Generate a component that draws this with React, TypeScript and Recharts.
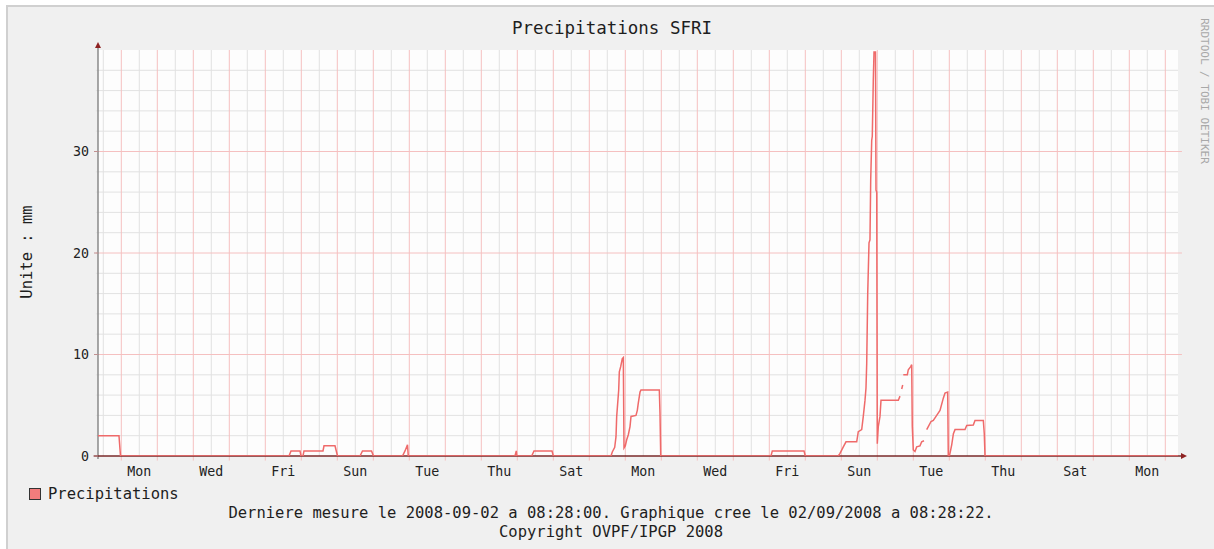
import React from 'react';
import { ComposedChart, Line, XAxis, YAxis, ReferenceLine, ReferenceArea, ReferenceDot } from 'recharts';

// Time axis: days since 2008-08-03 08:28 (30-day window ending 2008-09-02 08:28)
// Rain episodes, [day, mm]; null = unknown (gap in the line)
type Pt = [number, number | null];

const rainSunAug03: Pt[] = [[0.0, 2.0], [0.583, 2.0], [0.625, 0]];
const rainFriAug08: Pt[] = [
  [5.306, 0], [5.361, 0.5], [5.611, 0.5], [5.639, 0], [5.694, 0], [5.722, 0.5],
  [6.25, 0.5], [6.278, 1.0], [6.583, 1.0], [6.653, 0],
];
const rainSunAug10: Pt[] = [[7.278, 0], [7.347, 0.5], [7.597, 0.5], [7.653, 0]];
const rainMonAug11: Pt[] = [[8.458, 0], [8.528, 0.5], [8.597, 1.1], [8.619, 0]];
const rainThuAug14: Pt[] = [[11.583, 0], [11.619, 0.5], [11.633, 0]];
const rainFriAug15: Pt[] = [[12.047, 0], [12.111, 0.5], [12.611, 0.5], [12.647, 0]];
const rainMonAug18: Pt[] = [
  [14.25, 0], [14.286, 0.4], [14.353, 0.85], [14.389, 1.9], [14.408, 3.9], [14.464, 6.5],
  [14.481, 8.3], [14.519, 8.8], [14.564, 9.6], [14.592, 9.7], [14.611, 0.8], [14.647, 1.0],
  [14.686, 1.6], [14.731, 2.1], [14.778, 2.9], [14.806, 3.9], [14.944, 4.0], [14.981, 4.5],
  [15.008, 5.2], [15.056, 6.3], [15.083, 6.5], [15.592, 6.5], [15.611, 4.2], [15.631, 0],
];
const rainFriAug22: Pt[] = [[18.694, 0], [18.731, 0.5], [19.611, 0.5], [19.647, 0]];
const rainSunAug24: Pt[] = [
  [20.564, 0], [20.611, 0.26], [20.703, 0.9], [20.778, 1.4], [21.075, 1.4], [21.119, 2.4],
  [21.214, 2.6], [21.258, 3.9], [21.306, 5.5], [21.333, 6.7], [21.353, 9.1], [21.381, 16.0],
  [21.417, 21.0], [21.444, 21.3], [21.464, 27.2], [21.492, 31.1], [21.508, 31.5], [21.536, 37.0],
  [21.556, 39.8], [21.597, 39.8], [21.611, 26.2], [21.631, 26.0], [21.647, 1.2], [21.675, 2.9],
  [21.722, 3.9], [21.75, 5.5], [22.231, 5.5], [22.278, 5.9], [22.3, null], [22.325, 6.6],
  [22.353, 7.0], [22.36, null], [22.369, 8.0], [22.481, 8.0], [22.508, 8.5], [22.575, 8.8],
  [22.603, 9.0], [22.619, 2.9], [22.647, 0.6], [22.694, 0.45], [22.741, 0.9], [22.833, 1.0],
  [22.88, 1.4], [22.944, 1.5], [22.97, null], [23.019, 2.6], [23.064, 2.9], [23.139, 3.4],
  [23.203, 3.5], [23.297, 4.0], [23.389, 4.5], [23.481, 5.7], [23.528, 6.2], [23.603, 6.3],
  [23.619, 0], [23.65, 0], [23.686, 0.6], [23.714, 1.1], [23.761, 2.2], [23.806, 2.6],
  [24.083, 2.6], [24.131, 3.0], [24.314, 3.05], [24.361, 3.5], [24.592, 3.5], [24.619, 2.2],
  [24.639, 0],
];
const rainTail: Pt[] = [[30, 0]];

const dayLabels = ['Mon', 'Wed', 'Fri', 'Sun', 'Tue', 'Thu', 'Sat', 'Mon', 'Wed', 'Fri', 'Sun', 'Tue', 'Thu', 'Sat', 'Mon'];
const yTicks = [0, 10, 20, 30];
const yMinor = [2, 4, 6, 8, 12, 14, 16, 18, 22, 24, 26, 28, 32, 34, 36, 38];
const yMajor = [10, 20, 30];

const FIRST_MIDNIGHT = 0.6472; // Mon 2008-08-04 00:00
const majorX: number[] = [];
const minorX: number[] = [];
for (let k = 0; k < 30; k++) {
  majorX.push(FIRST_MIDNIGHT + k);
  minorX.push(FIRST_MIDNIGHT - 0.5 + k);
}
const labelDays = dayLabels.map((_, j) => FIRST_MIDNIGHT + 0.5 + 2 * j);

const FONT = '"DejaVu Sans Mono", monospace';
const GRID_MINOR = '#e2e2e2';
const GRID_MAJOR = '#f5c0c0';

const ArrowUp = (props: any) => {
  const { cx, cy } = props;
  return <polygon points={`${cx},${cy} ${cx - 3},${cy + 6} ${cx + 3},${cy + 6}`} fill="#8e2222" />;
};
const ArrowRight = (props: any) => {
  const { cx, cy } = props;
  return <polygon points={`${cx},${cy} ${cx - 6},${cy - 3} ${cx - 6},${cy + 3}`} fill="#8e2222" />;
};

export default function App() {
  const data = [
    ...rainSunAug03, ...rainFriAug08, ...rainSunAug10, ...rainMonAug11, ...rainThuAug14,
    ...rainFriAug15, ...rainMonAug18, ...rainFriAug22, ...rainSunAug24, ...rainTail,
  ].map(([t, v]) => ({ t, mm: v }));

  const tickStyle = { fontSize: 13.3, fill: '#222', fontFamily: FONT };

  return (
    <div style={{ position: 'absolute', left: 0, top: 0, width: 1214, height: 549, background: '#fff', overflow: 'hidden', fontFamily: FONT }}>
      <div style={{ position: 'absolute', left: 6, top: 5, width: 1230, height: 570, background: '#f0f0f0', borderLeft: '2px solid #d0d0d0', borderTop: '2px solid #d0d0d0' }} />
      <div style={{ position: 'absolute', left: 8, top: 7 }}>
        <ComposedChart width={1206} height={542} data={data} margin={{ top: 43, right: 36, left: 20, bottom: 63 }}>
          <XAxis
            dataKey="t" type="number" domain={[0, 30]} allowDataOverflow ticks={labelDays} interval={0}
            tickFormatter={(v: number) => dayLabels[labelDays.indexOf(v)] ?? ''}
            axisLine={false} tickLine={false} tickMargin={5} height={30} tick={tickStyle}
          />
          <YAxis
            type="number" domain={[0, 40]} allowDataOverflow ticks={yTicks} interval={0} width={70}
            axisLine={false} tickLine={{ stroke: '#c09090' }} tickSize={4} tickMargin={5} tick={tickStyle}
          />
          <ReferenceArea x1={0} x2={30} y1={0} y2={40} fill="#fdfdfd" fillOpacity={1} stroke="none" ifOverflow="visible" />
          {minorX.map((x) => (
            <ReferenceLine key={'mx' + x} segment={[{ x, y: 0 }, { x, y: 40 }]} stroke={GRID_MINOR} strokeWidth={1} ifOverflow="visible" />
          ))}
          {yMinor.map((y) => (
            <ReferenceLine key={'my' + y} segment={[{ x: -0.06, y }, { x: 30, y }]} stroke={GRID_MINOR} strokeWidth={1} ifOverflow="visible" />
          ))}
          {majorX.map((x) => (
            <ReferenceLine key={'Mx' + x} segment={[{ x, y: -0.45 }, { x, y: 40 }]} stroke={GRID_MAJOR} strokeWidth={1} ifOverflow="visible" />
          ))}
          {yMajor.map((y) => (
            <ReferenceLine key={'My' + y} segment={[{ x: -0.06, y }, { x: 30.11, y }]} stroke={GRID_MAJOR} strokeWidth={1} ifOverflow="visible" />
          ))}
          <ReferenceLine segment={[{ x: 0, y: -0.3 }, { x: 0, y: 40.4 }]} stroke="#8a8a8a" strokeWidth={1.5} ifOverflow="visible" />
          <ReferenceLine segment={[{ x: -0.12, y: 0 }, { x: 30.1, y: 0 }]} stroke="#7a2a2a" strokeWidth={1.5} ifOverflow="visible" />
          <ReferenceDot x={0} y={40.8} r={3} ifOverflow="visible" shape={ArrowUp} />
          <ReferenceDot x={30.25} y={0} r={3} ifOverflow="visible" shape={ArrowRight} />
          <Line
            dataKey="mm" type="linear" stroke="#ef6a6a" strokeWidth={1.5} dot={false}
            activeDot={false} connectNulls={false} isAnimationActive={false}
          />
        </ComposedChart>
      </div>

      <div style={{ position: 'absolute', left: 412, width: 400, top: 17, textAlign: 'center', fontSize: 17.5, lineHeight: '22px', color: '#1e1e1e', whiteSpace: 'nowrap' }}>
        Precipitations SFRI
      </div>
      <div style={{ position: 'absolute', left: 27, top: 252, width: 0, height: 0 }}>
        <div style={{ position: 'absolute', left: -100, top: -10, width: 200, lineHeight: '20px', textAlign: 'center', transform: 'rotate(-90deg)', fontSize: 15.5, color: '#1e1e1e', whiteSpace: 'nowrap' }}>
          Unite : mm
        </div>
      </div>
      <div style={{ position: 'absolute', left: 1204, top: 91, width: 0, height: 0 }}>
        <div style={{ position: 'absolute', left: -100, top: -7, width: 200, lineHeight: '14px', textAlign: 'center', transform: 'rotate(90deg)', fontSize: 11, color: '#a8a8a8', whiteSpace: 'nowrap' }}>
          RRDTOOL / TOBI OETIKER
        </div>
      </div>
      <div style={{ position: 'absolute', left: 29, top: 488, width: 10, height: 10, background: '#f37c7c', border: '1px solid #333' }} />
      <div style={{ position: 'absolute', left: 48, top: 484, fontSize: 15.5, lineHeight: '20px', color: '#1e1e1e', whiteSpace: 'nowrap' }}>
        Precipitations
      </div>
      <div style={{ position: 'absolute', left: 111, width: 1000, top: 503, textAlign: 'center', fontSize: 15.5, lineHeight: '20px', color: '#1e1e1e', whiteSpace: 'nowrap' }}>
        Derniere mesure le 2008-09-02 a 08:28:00. Graphique cree le 02/09/2008 a 08:28:22.
      </div>
      <div style={{ position: 'absolute', left: 111, width: 1000, top: 522, textAlign: 'center', fontSize: 15.5, lineHeight: '20px', color: '#1e1e1e', whiteSpace: 'nowrap' }}>
        Copyright OVPF/IPGP 2008
      </div>
    </div>
  );
}
